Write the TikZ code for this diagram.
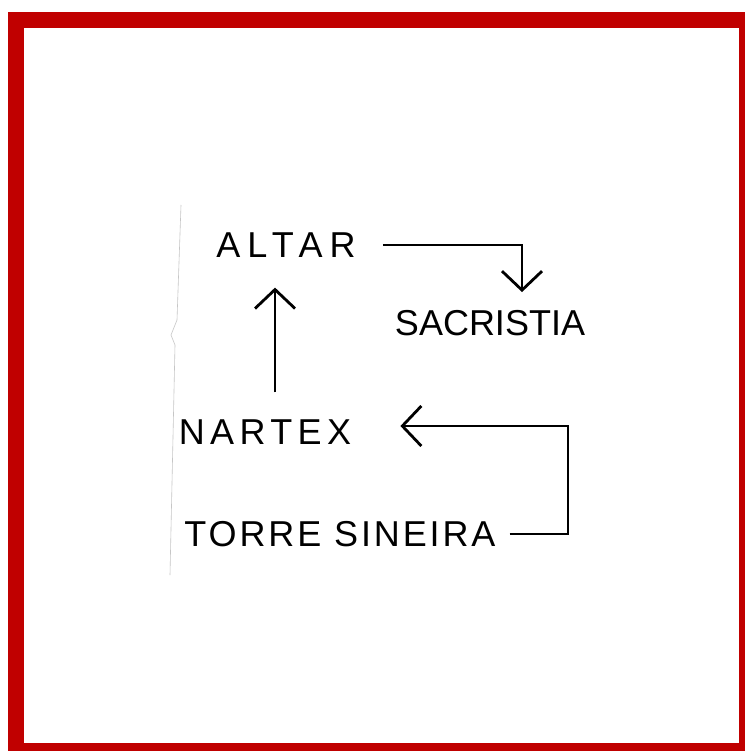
\documentclass[tikz,border=0pt]{standalone}
\usepackage{fontspec}
\usepackage{xcolor}
\usepackage{tikz}
\usetikzlibrary{arrows.meta,positioning,calc}
\newfontfamily\sketchfont{Liberation Sans}
\definecolor{framered}{HTML}{C00000}
\newcommand{\spaced}[1]{\addfontfeature{LetterSpace=#1}}

\begin{document}
\begin{tikzpicture}[x=1pt,y=-1pt,
  frame/.style={fill=framered},
  label/.style={font=\sketchfont\fontsize{36}{36}\selectfont,inner sep=2pt},
  arr/.style={-{Straight Barb[length=19pt,width=40pt]},line width=2.8pt},
  scanedge/.style={gray!45,line width=0.6pt}
]
\useasboundingbox (0,0) rectangle (745,751);
%--- red frame ---
\fill[frame] (8,12) rectangle (745,751);
\fill[white] (24,28) rectangle (739,743);
\draw[scanedge] (181,205) -- (177,320) -- (171,335) -- (175,345) -- (170,575);

%--- labels ---
\node[label] (altar) at (286,245) {\spaced{20}ALTAR};
\node[label] (sacristia) at (490,323) {\spaced{0}SACRISTIA};
\node[label] (nartex) at (265,432) {\spaced{15}NARTEX};
\node[label] (torre) at (340,534) {\spaced{8}TORRE SINEIRA};

%--- route ---
\draw[arr,shorten <=25pt,shorten >=28pt] ([xshift=10pt]nartex.north) -- ([xshift=-11pt]altar.south);
\draw[arr,shorten <=25pt,shorten >=16pt] (altar.east) -| ([xshift=32pt]sacristia.north);
\coordinate (bend) at (568,0);
\draw[arr,shorten <=12pt,shorten >=47pt] (torre.east) -- (torre.east -| bend) |- ([yshift=6pt]nartex.east);
\end{tikzpicture}
\end{document}
